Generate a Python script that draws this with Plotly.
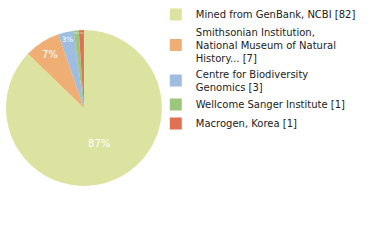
import plotly.graph_objects as go

labels = ["Mined from GenBank, NCBI [82]",
          "Smithsonian Institution,<br>National Museum of Natural<br>History... [7]",
          "Centre for Biodiversity<br>Genomics [3]",
          "Wellcome Sanger Institute [1]",
          "Macrogen, Korea [1]"]
values = [82, 7, 3, 1, 1]
colors = ["#dce3a0", "#efae73", "#9ebde0", "#9bc67c", "#e07153"]

fig = go.Figure(go.Pie(
    labels=labels, values=values, sort=False, direction="clockwise", rotation=0,
    marker=dict(colors=colors, line=dict(width=0)),
    texttemplate="%{percent:.0%}", textposition="inside",
    insidetextfont=dict(color="white", size=10, family="DejaVu Sans"),
    insidetextorientation="horizontal",
    domain=dict(x=[0.0158, 0.426], y=[0.225, 0.875]),
))
fig.update_layout(
    width=380, height=240, margin=dict(l=0, r=0, t=0, b=0),
    paper_bgcolor="white", plot_bgcolor="white",
    font=dict(family="DejaVu Sans", size=10, color="#222"),
    legend=dict(x=0.41, y=1.0, xanchor="left", yanchor="top",
                bgcolor="rgba(0,0,0,0)",
                font=dict(size=10), itemsizing="constant",
                tracegroupgap=0, itemwidth=30),
    showlegend=True,
)
fig.write_html("out.html")
